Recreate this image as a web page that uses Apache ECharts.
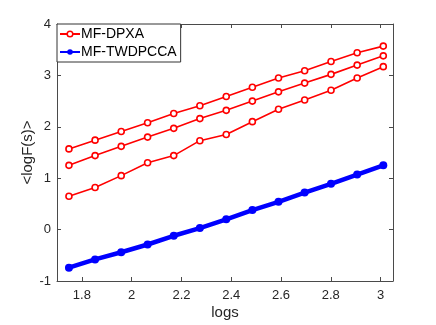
<!doctype html>
<html>
<head>
<meta charset="UTF-8">
<title>logF</title>
<script src="https://cdn.jsdelivr.net/npm/echarts@6/dist/echarts.min.js"></script>
<style>
  html, body { margin: 0; padding: 0; background: #fff; }
  #main { width: 436px; height: 325px; }
</style>
</head>
<body>
<div id="main"></div>
<script type="text/javascript">
    // x坐标 (logs)
    var logs = [1.748, 1.853, 1.958, 2.064, 2.169, 2.274, 2.380, 2.485, 2.590, 2.695, 2.801, 2.906, 3.011];
    // MF-DPXA 三条线
    var dpxaTop = [1.57, 1.74, 1.91, 2.08, 2.26, 2.41, 2.59, 2.77, 2.95, 3.09, 3.27, 3.44, 3.57];
    var dpxaMid = [1.25, 1.44, 1.62, 1.80, 1.97, 2.16, 2.32, 2.50, 2.68, 2.85, 3.02, 3.20, 3.38];
    var dpxaLow = [0.65, 0.82, 1.05, 1.30, 1.44, 1.73, 1.85, 2.10, 2.34, 2.52, 2.71, 2.95, 3.17];
    // MF-TWDPCCA
    var twdpcca = [-0.74, -0.58, -0.44, -0.29, -0.12, 0.03, 0.20, 0.38, 0.54, 0.72, 0.89, 1.07, 1.25];
    var xTicks = [1.8, 2, 2.2, 2.4, 2.6, 2.8, 3];

    function pairs(ys) {
        var out = [];
        for (var i = 0; i < logs.length; i++) {
            out.push([logs[i], ys[i]]);
        }
        return out;
    }

    var font = 'Liberation Sans, Arial, Helvetica, sans-serif';
    var axisColor = '#4a4a4a';

    function redLine(ys) {
        return {
            name: 'MF-DPXA',
            type: 'line',
            data: pairs(ys),
            symbol: 'circle',
            symbolSize: 6,
            lineStyle: {color: '#ff0000', width: 1.6},
            itemStyle: {color: '#ffffff', borderColor: '#ff0000', borderWidth: 1.6},
            animation: false
        };
    }

    var myChart = echarts.init(document.getElementById('main'));
    myChart.setOption({
        backgroundColor: '#ffffff',
        textStyle: {fontFamily: font},
        grid: {left: 57, right: 43, top: 24, bottom: 43},
        legend: {
            left: 57, top: 24,
            orient: 'vertical',
            data: [
                {name: 'MF-DPXA', itemStyle: {color: '#ffffff', borderColor: '#ff0000', borderWidth: 1.5}},
                {name: 'MF-TWDPCCA'}
            ],
            itemWidth: 20, itemHeight: 7, itemGap: 4,
            padding: [3, 4, 3, 2],
            borderColor: '#333', borderWidth: 1,
            backgroundColor: '#ffffff',
            textStyle: {fontSize: 14, color: '#000', fontFamily: font, padding: [0, 0, 0, -4]}
        },
        xAxis: [
            {
                type: 'value', min: 1.7, max: 3.05,
                name: 'logs', nameLocation: 'middle', nameGap: 24, nameMoveOverlap: false,
                nameTextStyle: {fontSize: 15, color: '#262626', fontFamily: font},
                axisLine: {onZero: false, lineStyle: {color: axisColor}},
                axisTick: {inside: true, length: 4, customValues: xTicks, lineStyle: {color: axisColor}},
                axisLabel: {fontSize: 13, color: '#262626', margin: 8, customValues: xTicks, fontFamily: font},
                splitLine: {show: false}
            },
            {
                type: 'value', min: 1.7, max: 3.05, position: 'top',
                axisLine: {onZero: false, lineStyle: {color: axisColor}},
                axisTick: {inside: true, length: 4, customValues: xTicks, lineStyle: {color: axisColor}},
                axisLabel: {show: false},
                splitLine: {show: false}
            }
        ],
        yAxis: [
            {
                type: 'value', min: -1, max: 4, interval: 1,
                name: '<logF(s)>', nameLocation: 'middle', nameGap: 22, nameMoveOverlap: false,
                nameTextStyle: {fontSize: 15, color: '#262626', fontFamily: font},
                axisLine: {show: true, onZero: false, lineStyle: {color: axisColor}},
                axisTick: {show: true, inside: true, length: 4, lineStyle: {color: axisColor}},
                axisLabel: {fontSize: 13, color: '#262626', margin: 6, fontFamily: font},
                splitLine: {show: false}
            },
            {
                type: 'value', min: -1, max: 4, interval: 1, position: 'right',
                axisLine: {show: true, onZero: false, lineStyle: {color: axisColor}},
                axisTick: {show: true, inside: true, length: 4, lineStyle: {color: axisColor}},
                axisLabel: {show: false},
                splitLine: {show: false}
            }
        ],
        series: [
            redLine(dpxaTop),
            redLine(dpxaMid),
            redLine(dpxaLow),
            {
                name: 'MF-TWDPCCA',
                type: 'line',
                data: pairs(twdpcca),
                symbol: 'circle',
                symbolSize: 8,
                lineStyle: {color: '#0000ff', width: 4.5},
                itemStyle: {color: '#0000ff'},
                animation: false
            }
        ]
    });
</script>
</body>
</html>
